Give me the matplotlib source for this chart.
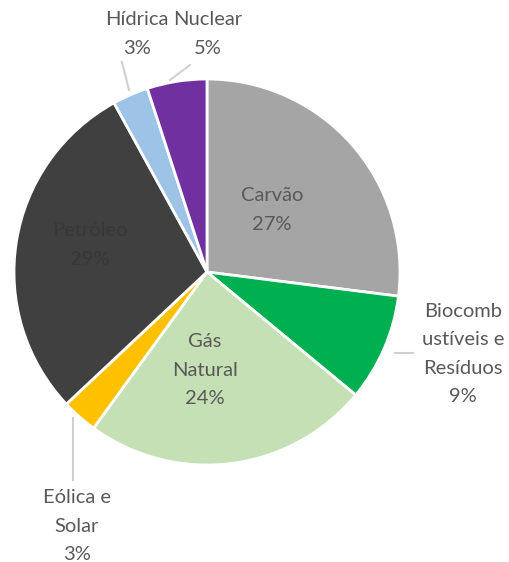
import matplotlib.pyplot as plt

labels = ["Carvão", "Biocomb\nustíveis e\nResíduos", "Gás\nNatural", "Eólica e\nSolar", "Petróleo", "Hídrica", "Nuclear"]
shares = [27, 9, 24, 3, 29, 3, 5]
colors = ["#A5A5A5", "#00B050", "#C5E0B4", "#FFC000", "#404040", "#9DC3E6", "#7030A0"]

plt.rcParams["font.family"] = ["Lato", "DejaVu Sans"]

W, H = 509, 562
fig = plt.figure(figsize=(W / 100, H / 100), dpi=100)
ax = fig.add_axes([0, 0, 1, 1])

cx, cy, r = 207, H - 272, 193
ax.pie(shares, colors=colors, startangle=90, counterclock=False,
       center=(cx, cy), radius=r,
       wedgeprops=dict(edgecolor="white", linewidth=2))

ax.set_xlim(0, W)
ax.set_ylim(0, H)
ax.set_aspect("equal")
ax.axis("off")

txt = "#595959"
fs = 14.5
ls = 1.8

def lab(i, x, y, color=txt):
    ax.text(x, H - y, f"{labels[i]}\n{shares[i]}%", ha="center", va="center",
            fontsize=fs, color=color, linespacing=ls)

# inside labels
lab(0, 272, 210)
lab(2, 205, 370)
lab(4, 90, 245, color="#383838")

# outside labels
lab(1, 463, 354)
lab(3, 77, 526)
lab(5, 137, 34)
lab(6, 208, 34)

# leader lines
lc = "#D0D0D0"
ax.plot([395, 413], [H - 353, H - 353], color=lc, lw=1.5)
ax.plot([73, 73], [H - 418, H - 480], color=lc, lw=1.5)
ax.plot([122, 129], [H - 62, H - 90], color=lc, lw=1.5)
ax.plot([190, 170], [H - 65, H - 80], color=lc, lw=1.5)

fig.savefig("out.png", dpi=100)
